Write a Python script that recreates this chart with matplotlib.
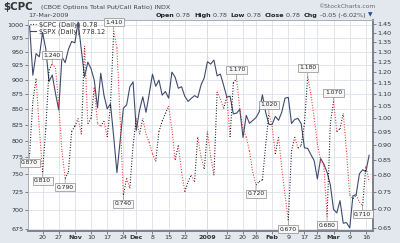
import matplotlib
matplotlib.use("Agg")
import matplotlib.pyplot as plt
import numpy as np
import pandas as pd
from matplotlib.lines import Line2D
from matplotlib.ticker import FixedLocator, FixedFormatter, NullLocator

# trading days shown (Oct 14 2008 .. Mar 17 2009)
HOLIDAYS = ["2008-11-27", "2008-12-25", "2009-01-01", "2009-01-19", "2009-02-16"]
days = pd.bdate_range("2008-10-14", "2009-03-17")
days = days[~days.isin(pd.to_datetime(HOLIDAYS))]

spx = [
    998.01, 907.84, 946.43, 940.55, 985.40, 955.05, 896.78, 908.11, 876.77, 848.92,
    940.51, 930.09, 954.09, 968.75, 966.30, 1005.75, 952.77, 904.88, 930.99, 919.21,
    898.95, 852.30, 911.29, 873.29, 850.75, 859.12, 806.58, 752.44, 800.03, 851.81,
    857.39, 887.68, 896.24, 816.21, 848.81, 870.74, 845.22, 876.07, 909.70, 888.67,
    899.24, 873.59, 879.73, 868.57, 913.18, 904.42, 885.28, 887.88, 871.63, 863.16,
    868.15, 872.80, 869.42, 890.64, 903.25, 931.80, 927.45, 934.70, 906.65, 909.73,
    890.35, 870.26, 871.79, 842.62, 843.74, 850.12, 805.22, 840.24, 827.50, 831.95,
    836.57, 845.71, 874.09, 845.14, 825.88, 825.44, 838.51, 832.23, 845.85, 868.60,
    869.89, 827.16, 833.74, 835.19, 826.84, 789.17, 788.42, 778.94, 770.05, 743.33,
    773.14, 764.90, 752.83, 735.09, 700.82, 696.33, 712.87, 682.55, 683.38, 676.53,
    719.60, 721.36, 750.74, 756.55, 753.89, 778.12,
]

cpc = [
    0.87, 1.07, 1.17, 0.96, 0.81, 0.96, 1.21, 1.24, 1.22, 1.06,
    0.88, 0.79, 0.81, 0.95, 0.97, 1.00, 0.94, 1.33, 0.98, 1.00,
    1.13, 0.98, 0.97, 0.99, 0.93, 1.05, 1.41, 1.32, 1.00, 0.74,
    0.79, 0.76, 0.90, 1.00, 0.94, 1.00, 0.94, 0.91, 0.87, 0.845,
    0.95, 0.99, 1.02, 1.05, 0.96, 0.85, 0.90, 0.81, 0.75, 0.78,
    0.80, 0.78, 0.93, 0.86, 0.82, 0.95, 0.86, 0.80, 1.11, 1.08,
    1.04, 1.09, 0.93, 1.15, 1.17, 1.04, 0.96, 0.93, 0.88, 0.81,
    0.77, 0.78, 0.785, 0.90, 1.02, 0.97, 0.87, 0.93, 0.82, 0.74,
    0.67, 0.88, 0.93, 0.89, 0.90, 0.98, 1.18, 1.10, 1.00, 0.905,
    0.85, 0.83, 0.68, 0.98, 1.07, 0.95, 0.96, 1.02, 0.88, 0.74,
    0.73, 0.74, 0.72, 0.71, 0.83, 0.78,
]

# peak / trough labels: (date, text, kind)
turns = [
    ("2008-10-14", "0.870", "low"), ("2008-10-20", "0.810", "low"),
    ("2008-10-23", "1.240", "high"), ("2008-10-29", "0.790", "low"),
    ("2008-11-19", "1.410", "high"), ("2008-11-24", "0.740", "low"),
    ("2009-01-15", "1.170", "high"), ("2009-01-26", "0.720", "low"),
    ("2009-01-30", "1.020", "high"), ("2009-02-09", "0.670", "low"),
    ("2009-02-18", "1.180", "high"), ("2009-02-26", "0.680", "low"),
    ("2009-03-02", "1.070", "high"), ("2009-03-13", "0.710", "low"),
]

tick_dates = [
    "2008-10-20", "2008-10-27", "2008-11-03", "2008-11-10", "2008-11-17",
    "2008-11-24", "2008-12-01", "2008-12-08", "2008-12-15", "2008-12-22",
    "2009-01-02", "2009-01-12", "2009-01-20", "2009-01-26", "2009-02-02",
    "2009-02-09", "2009-02-17", "2009-02-23", "2009-03-02", "2009-03-09",
    "2009-03-16",
]
tick_labels = ["20", "27", "Nov", "10", "17", "24", "Dec", "8", "15", "22", "2009",
               "12", "20", "26", "Feb", "9", "17", "23", "Mar", "9", "16"]
spx_ticks = [675, 700, 725, 750, 775, 800, 825, 850, 875, 900, 925, 950, 975, 1000]
cpc_ticks = [0.65, 0.70, 0.75, 0.80, 0.85, 0.90, 0.95, 1.00, 1.05, 1.10, 1.15,
             1.20, 1.25, 1.30, 1.35, 1.40, 1.45]

BG = "#e3e7ee"
SPX_COLOR = "#3f4b6e"
DOTS = (0, (0.8, 1.6))
W, H = 400, 243


def pos(date):
    return days.get_loc(pd.Timestamp(date))


x = np.arange(len(days))
fig = plt.figure(figsize=(W / 100, H / 100), dpi=100, facecolor=BG)
ax = fig.add_axes([28 / W, 1 - 231 / H, 345 / W, 211 / H])
ax.set_facecolor("white")

ax.plot(x, spx, color=SPX_COLOR, lw=0.8, zorder=2)
ax.set_yscale("log")
ax.set_ylim(672.4, 1009.7)
ax.set_xlim(-0.5, len(days) + 0.2)
ax.yaxis.set_major_locator(FixedLocator(spx_ticks))
ax.yaxis.set_major_formatter(FixedFormatter([str(t) for t in spx_ticks]))
ax.yaxis.set_minor_locator(NullLocator())

tick_pos = [pos(d) for d in tick_dates]
ax.set_xticks(tick_pos)
ax.set_xticklabels(tick_labels)
for lab in ax.get_xticklabels():
    if not lab.get_text().isdigit() or lab.get_text() == "2009":
        lab.set_fontweight("bold")
ax.grid(True, color="#dde1e8", lw=0.6, zorder=0)
ax.axvline(pos("2009-01-02"), color="#c0c4cc", lw=0.7, zorder=0)
ax.tick_params(axis="both", labelsize=4.6, length=2, width=0.5, color="#555555",
               pad=1.2, labelcolor="#333333")

ax2 = ax.twinx()
ax2.set_yscale("log")
ax2.set_ylim(0.6424, 1.473)
ax2.yaxis.set_major_locator(FixedLocator(cpc_ticks))
ax2.yaxis.set_major_formatter(FixedFormatter([f"{t:.2f}" for t in cpc_ticks]))
ax2.yaxis.set_minor_locator(NullLocator())
ax2.tick_params(axis="y", labelsize=4.6, length=2, width=0.5, color="#555555",
                pad=1.2, labelcolor="#333333")

# dotted CPC line, black when rising and red when falling
for k in range(len(cpc) - 1):
    col = "black" if cpc[k + 1] >= cpc[k] else "#ff1a1a"
    ax2.plot(x[k:k + 2], cpc[k:k + 2], color=col, lw=0.8,
             linestyle=DOTS, zorder=3)

for date, text, kind in turns:
    i = pos(date)
    up = kind == "high"
    ax2.annotate(text, (x[i], cpc[i]), xytext=(0, 4.5 if up else -4.5),
                 textcoords="offset points", ha="center",
                 va="bottom" if up else "top", fontsize=4.3, color="#222222",
                 bbox=dict(boxstyle="square,pad=0.25", fc="#f6f6f6", ec="#8c8c8c", lw=0.5),
                 arrowprops=dict(arrowstyle="-", color="#8c8c8c", lw=0.5,
                                 shrinkA=0, shrinkB=0.5),
                 zorder=5, annotation_clip=False)

for a in (ax, ax2):
    for side in ("left", "top"):
        a.spines[side].set_color("#a9aeb8")
        a.spines[side].set_linewidth(0.6)
    for side in ("right", "bottom"):
        a.spines[side].set_color("#7d828c")
        a.spines[side].set_linewidth(1.2)

handles = [
    Line2D([], [], color="black", lw=0.8, linestyle=DOTS),
    Line2D([], [], color=SPX_COLOR, lw=0.8),
]
leg = ax2.legend(handles, [f"$CPC (Daily) {cpc[-1]:.2f}", f"$SPX (Daily) {spx[-1]:.2f}"],
                 loc="upper left", fontsize=4.8, frameon=False, handlelength=1.0,
                 handletextpad=0.4, labelspacing=0.05, borderaxespad=0.15,
                 borderpad=0.1)
for t in leg.get_texts():
    t.set_color("#333333")

# header
fig.text(3 / W, 1 - 7.5 / H, "$CPC", fontsize=7.4, fontweight="bold",
         color="#333333", va="center")
fig.text(41 / W, 1 - 7.5 / H, "(CBOE Options Total Put/Call Ratio) INDX",
         fontsize=4.6, color="#444444", va="center")
fig.text(28 / W, 1 - 15 / H, "17-Mar-2009", fontsize=4.6, color="#444444", va="center")
fig.text(375 / W, 1 - 6 / H, "\u00a9StockCharts.com", fontsize=4.3,
         color="#666666", va="center", ha="right")

chg = (cpc[-1] - cpc[-2])
pieces = [
    ("Open", True), (f" {cpc[-1]:.2f}  ", False), ("High", True), (f" {cpc[-1]:.2f}  ", False),
    ("Low", True), (f" {cpc[-1]:.2f}  ", False), ("Close", True), (f" {cpc[-1]:.2f}  ", False),
    ("Chg", True), (f" {chg:.2f} ({chg / cpc[-2] * 100:.2f}%) ", False),
]
renderer = fig.canvas.get_renderer()
cursor = 372
arrow = fig.text(cursor / W, 1 - 15 / H, "\u25bc", fontsize=4.2, color="#2a4a9a",
                 va="center", ha="right")
cursor -= arrow.get_window_extent(renderer).width
for text, bold in reversed(pieces):
    t = fig.text(cursor / W, 1 - 15 / H, text, fontsize=4.6, va="center", ha="right",
                 fontweight="bold" if bold else "normal",
                 color="#222222" if bold else "#444444")
    cursor -= t.get_window_extent(renderer).width

fig.savefig("out.png", dpi=100, facecolor=BG)
